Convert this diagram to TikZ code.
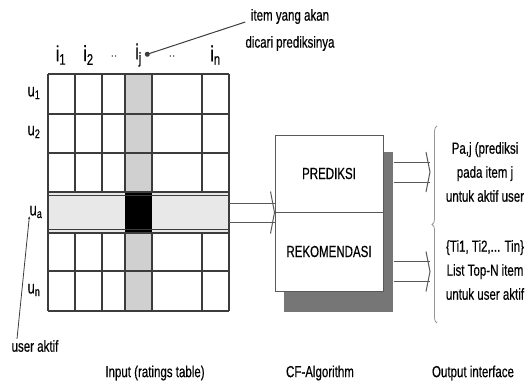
\documentclass[tikz,border=0pt]{standalone}
\usepackage{fontspec}
\setmainfont{Liberation Sans}[FakeStretch=0.72, FakeBold=0.4]
\usepackage{tikz}
\definecolor{gridline}{RGB}{60,60,60}
\definecolor{colshade}{RGB}{208,208,208}
\definecolor{rowshade}{RGB}{232,232,232}
\definecolor{shadowgray}{RGB}{118,118,118}
\definecolor{bracegray}{RGB}{150,150,150}
\usetikzlibrary{arrows.meta,positioning,calc,decorations.pathreplacing}

\begin{document}
\begin{tikzpicture}[x=1pt, y=-1pt,
    lbl/.style={font=\fontsize{16}{18}\selectfont, inner sep=0pt},
    idx/.style={font=\fontsize{22}{24}\selectfont, inner sep=0pt},
    usr/.style={font=\fontsize{18}{20}\selectfont, inner sep=0pt},
    cfbox/.style={rectangle, draw=gridline!85, line width=1pt, fill=white, inner sep=0pt,
        minimum width=108pt, font=\fontsize{16}{18}\selectfont},
    flow/.style={draw=gridline!85, line width=1pt}]
    \useasboundingbox (0,0) rectangle (526,385);

    % Ratings table
    \node[minimum width=181pt, minimum height=237pt, inner sep=0pt] (table) at (138.5,192.5) {};
    \fill[colshade] (125,74) rectangle (152,311);
    \foreach \x in {48,75,102,125,152,202,229}
        \draw[gridline, line width=1.2pt] (\x,74) -- (\x,311);
    \foreach \y in {74,114,153,271,311}
        \draw[gridline, line width=1.2pt] (48,\y) -- (229,\y);

    % Active user row
    \fill[rowshade] (48,192) rectangle (229,233);
    \fill[black] (125,192) rectangle (152,233);
    \foreach \y in {192,195.5,229.5,233}
        \draw[gridline, line width=1.2pt] (48,\y) -- (229,\y);
    \draw[gridline, line width=1.2pt] (48,192) -- (48,233) (229,192) -- (229,233);

    % Column labels
    \node[idx] (i1) at (61,55) {i\textsubscript{1}};
    \node[idx] (i2) at (88.5,55) {i\textsubscript{2}};
    \node[lbl, gray] (dots1) at (114,56) {..};
    \node[idx] (ij) at (138.5,55) {i\textsubscript{j}};
    \node[lbl, gray] (dots2) at (172,56) {..};
    \node[idx] (in) at (215.5,55) {i\textsubscript{n}};

    % Row labels
    \node[usr] (u1) at (34,93) {u\textsubscript{1}};
    \node[usr] (u2) at (34,132) {u\textsubscript{2}};
    \node[usr] (ua) at (36,212) {u\textsubscript{a}};
    \node[usr] (un) at (34,290) {u\textsubscript{n}};

    % Annotations
    \node[lbl, align=center, font=\fontsize{16}{27}\selectfont] (note) at (290,30)
        {item yang akan\\dicari prediksinya};
    \draw[gridline, line width=1pt, {Circle[length=5pt]}-] ($(ij.east)+(3,0)$) -- ($(note.west)+(0,-8)$);
    \node[lbl] (user) at (35,346) {user aktif};
    \draw[gridline, line width=0.8pt, -{Latex[length=3pt,width=2.5pt]}]
        ($(user.north)+(-18,-1)$) -- ($(ua.west)+(0,4)$);

    % CF-Algorithm
    \fill[shadowgray] (284,152) rectangle (393,312);
    \node[cfbox, minimum height=77pt] (pred) at (329,173.5) {PREDIKSI};
    \node[cfbox, minimum height=79pt] (rekom) at (329,251.5) {REKOMENDASI};

    % Input -> CF
    \coordinate (cfin) at (pred.south west);
    \draw[flow] ($(table.east |- cfin)+(0,-9.5)$) -- ($(cfin)+(0,-9.5)$);
    \draw[flow] ($(table.east |- cfin)+(0,9.5)$) -- ($(cfin)+(0,9.5)$);
    \draw[flow] ($(cfin)+(-4,-21)$) -- (cfin) -- ($(cfin)+(-4,21)$);

    % CF -> Output
    \coordinate (outpred) at (430,172);
    \coordinate (outrekom) at (430,271.5);
    \foreach \tgt in {outpred,outrekom} {
        \draw[flow] ($(pred.east |- \tgt)+(10,-10)$) -- ($(\tgt)+(0,-10)$);
        \draw[flow] ($(pred.east |- \tgt)+(10,10)$) -- ($(\tgt)+(0,10)$);
        \draw[flow] ($(\tgt)+(-4,-20)$) -- (\tgt) -- ($(\tgt)+(-4,20)$);
    }

    % Output interface
    \draw[bracegray, line width=0.8pt, decorate, decoration={brace, amplitude=5pt}] (437,323) -- (437,126);
    \node[lbl, align=center, font=\fontsize{16}{24}\selectfont] (txtpred) at (485,172)
        {Pa,j (prediksi\\pada item j\\untuk aktif user};
    \node[lbl, align=center, font=\fontsize{16}{24}\selectfont] (txtrekom) at (485,270)
        {\{Ti1, Ti2,... Tin\}\\List Top-N item\\untuk user aktif};

    % Captions
    \node[lbl] (capin) at (155,373) {Input (ratings table)};
    \node[lbl] (capcf) at (320,373) {CF-Algorithm};
    \node[lbl] (capout) at (473,373) {Output interface};
\end{tikzpicture}
\end{document}
